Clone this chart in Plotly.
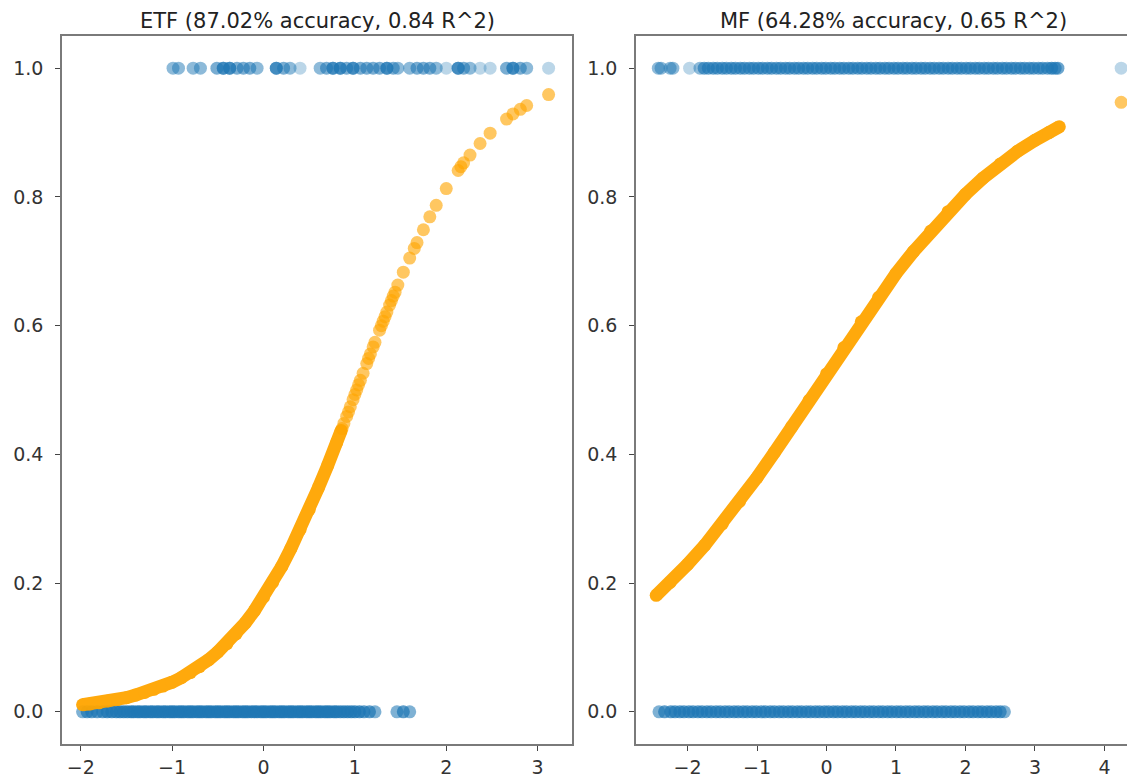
import plotly.graph_objects as go

# ---------------- data ----------------
titles = ["ETF (87.02% accuracy, 0.84 R^2)", "MF (64.28% accuracy, 0.65 R^2)"]

# ETF: x of observations with label 0 / label 1
etf_x_label0 = [-1.98, -1.93, -1.88, -1.82, -1.76, -1.71, -1.66, -1.61, -1.57, -1.53,
                -1.49, -1.45, -1.42, -1.38, -1.35, -1.31, -1.28, -1.24, -1.21, -1.17,
                -1.14, -1.10, -1.07, -1.03, -1.00, -0.97, -0.93, -0.90, -0.87, -0.83,
                -0.80, -0.77, -0.73, -0.70, -0.67, -0.63, -0.60, -0.57, -0.53, -0.50,
                -0.47, -0.43, -0.40, -0.37, -0.33, -0.30, -0.27, -0.23, -0.20, -0.17,
                -0.13, -0.10, -0.07, -0.03, 0.00, 0.03, 0.07, 0.10, 0.13, 0.17,
                0.20, 0.23, 0.27, 0.30, 0.33, 0.37, 0.40, 0.43, 0.47, 0.50,
                0.53, 0.57, 0.60, 0.63, 0.67, 0.70, 0.73, 0.77, 0.80, 0.84,
                0.88, 0.92, 0.96, 1.00, 1.05, 1.10, 1.16, 1.22, 1.46, 1.53, 1.60]
etf_x_label1 = [-0.99, -0.93, -0.77, -0.69, -0.51, -0.44, -0.44, -0.37, -0.37, -0.29,
                -0.22, -0.15, -0.07, 0.14, 0.14, 0.22, 0.29, 0.40, 0.62, 0.69,
                0.76, 0.76, 0.84, 0.84, 0.91, 0.98, 0.98, 1.06, 1.13, 1.20,
                1.27, 1.35, 1.35, 1.42, 1.47, 1.60, 1.68, 1.75, 1.82, 1.89,
                2.00, 2.13, 2.13, 2.19, 2.26, 2.37, 2.48, 2.66, 2.73, 2.73,
                2.81, 2.88, 3.12]
# ETF predicted probabilities (dense lower part and sparse upper part)
etf_curve_x = [-1.98, -1.90, -1.80, -1.70, -1.60, -1.50, -1.40, -1.30, -1.20, -1.10,
               -1.00, -0.90, -0.80, -0.70, -0.60, -0.50, -0.40, -0.30, -0.20, -0.10,
               0.00, 0.10, 0.20, 0.30, 0.40, 0.50, 0.60, 0.70, 0.80, 0.85]
etf_curve_p = [0.011, 0.012, 0.014, 0.017, 0.019, 0.022, 0.026, 0.030, 0.035, 0.040,
               0.046, 0.053, 0.061, 0.070, 0.081, 0.093, 0.106, 0.121, 0.138, 0.157,
               0.178, 0.201, 0.226, 0.254, 0.283, 0.314, 0.348, 0.382, 0.418, 0.437]
etf_sparse_x = [0.86, 0.88, 0.91, 0.93, 0.95, 0.98, 1.00, 1.02, 1.04, 1.06,
                1.09, 1.13, 1.15, 1.17, 1.20, 1.22, 1.27, 1.29, 1.31, 1.33,
                1.35, 1.38, 1.40, 1.42, 1.44, 1.47, 1.53, 1.60, 1.65, 1.68,
                1.75, 1.82, 1.89, 2.00, 2.13, 2.16, 2.19, 2.26, 2.37, 2.48,
                2.66, 2.73, 2.81, 2.88, 3.12]
etf_sparse_p = [0.440, 0.448, 0.459, 0.466, 0.474, 0.485, 0.493, 0.500, 0.508, 0.515,
                0.526, 0.541, 0.549, 0.556, 0.567, 0.574, 0.593, 0.600, 0.607, 0.614,
                0.621, 0.632, 0.639, 0.646, 0.652, 0.663, 0.683, 0.705, 0.720, 0.729,
                0.749, 0.769, 0.787, 0.813, 0.841, 0.847, 0.853, 0.865, 0.883, 0.899,
                0.921, 0.929, 0.936, 0.942, 0.959]

# MF: x of observations with label 0 / label 1
mf_x_label0 = [-2.41, -2.33, -2.24, -2.18, -2.11, -2.05, -1.98, -1.92, -1.85, -1.79,
               -1.72, -1.66, -1.59, -1.53, -1.46, -1.40, -1.33, -1.27, -1.20, -1.14,
               -1.07, -1.01, -0.94, -0.88, -0.81, -0.75, -0.68, -0.62, -0.55, -0.49,
               -0.42, -0.36, -0.29, -0.23, -0.16, -0.10, -0.03, 0.03, 0.10, 0.16,
               0.23, 0.29, 0.36, 0.42, 0.49, 0.55, 0.62, 0.68, 0.75, 0.81,
               0.88, 0.94, 1.01, 1.07, 1.14, 1.20, 1.27, 1.33, 1.40, 1.46,
               1.53, 1.59, 1.66, 1.72, 1.79, 1.85, 1.92, 1.98, 2.05, 2.11,
               2.18, 2.24, 2.31, 2.37, 2.44, 2.50, 2.56]
mf_x_label1 = [-2.42, -2.38, -2.25, -2.21, -1.97, -1.82, -1.76, -1.70, -1.63, -1.57,
               -1.50, -1.44, -1.37, -1.31, -1.24, -1.18, -1.11, -1.05, -0.98, -0.92,
               -0.85, -0.79, -0.72, -0.66, -0.59, -0.53, -0.46, -0.40, -0.33, -0.27,
               -0.20, -0.14, -0.07, -0.01, 0.06, 0.12, 0.19, 0.25, 0.32, 0.38,
               0.45, 0.51, 0.58, 0.64, 0.71, 0.77, 0.84, 0.90, 0.97, 1.03,
               1.10, 1.16, 1.23, 1.29, 1.36, 1.42, 1.49, 1.55, 1.62, 1.68,
               1.75, 1.81, 1.88, 1.94, 2.01, 2.07, 2.14, 2.20, 2.27, 2.33,
               2.40, 2.46, 2.53, 2.59, 2.66, 2.72, 2.79, 2.85, 2.92, 2.98,
               3.05, 3.11, 3.18, 3.24, 3.29, 3.33, 4.24]
mf_curve_x = [-2.45, -2.25, -2.00, -1.75, -1.50, -1.25, -1.00, -0.75, -0.50, -0.25,
              0.00, 0.25, 0.50, 0.75, 1.00, 1.25, 1.50, 1.75, 2.00, 2.25,
              2.50, 2.75, 3.00, 3.20, 3.35]
mf_curve_p = [0.181, 0.201, 0.229, 0.259, 0.292, 0.327, 0.364, 0.403, 0.443, 0.484,
              0.525, 0.566, 0.606, 0.644, 0.681, 0.715, 0.747, 0.777, 0.804, 0.829,
              0.851, 0.871, 0.888, 0.900, 0.909]
mf_sparse_x = [4.24]
mf_sparse_p = [0.947]

x_ticks_etf = [-2, -1, 0, 1, 2, 3]
x_ticks_mf = [-2, -1, 0, 1, 2, 3, 4]
y_ticks = [0.0, 0.2, 0.4, 0.6, 0.8, 1.0]

# ---------------- styling ----------------
BLUE = "#1f77b4"
ORANGE = "#FFA500"
FONT = "DejaVu Sans"
OFF = 8                      # page body margin of the html page
W, H = 1135 - OFF, 782 - OFF  # figure size so it fills the window exactly
MS = 13


def density_opacity(xs, base, cap, radius=0.1):
    # emulate overlapping semi-transparent points: isolated points look pale
    out = []
    for v in xs:
        n = sum(1 for u in xs if abs(u - v) <= radius)
        out.append(min(cap, 1 - (1 - base) ** n))
    return out


fig = go.Figure()


def add_panel(xa, ya, x0, x1, cx, cp, sx, sp, cap0, cap1):
    fig.add_trace(go.Scatter(x=x0, y=[0] * len(x0), mode="markers", xaxis=xa, yaxis=ya,
                             marker=dict(size=MS, color=BLUE, opacity=density_opacity(x0, 0.35, cap0),
                                         line=dict(width=0)),
                             showlegend=False, hoverinfo="skip"))
    fig.add_trace(go.Scatter(x=x1, y=[1] * len(x1), mode="markers", xaxis=xa, yaxis=ya,
                             marker=dict(size=MS, color=BLUE, opacity=density_opacity(x1, 0.3, cap1),
                                         line=dict(width=0)),
                             showlegend=False, hoverinfo="skip"))
    fig.add_trace(go.Scatter(x=cx, y=cp, mode="lines+markers", xaxis=xa, yaxis=ya,
                             line=dict(color=ORANGE, width=MS),
                             marker=dict(size=MS, color=ORANGE, line=dict(width=0)),
                             opacity=0.95, showlegend=False, hoverinfo="skip"))
    fig.add_trace(go.Scatter(x=sx, y=sp, mode="markers", xaxis=xa, yaxis=ya,
                             marker=dict(size=MS, color=ORANGE, opacity=0.62, line=dict(width=0)),
                             showlegend=False, hoverinfo="skip"))


add_panel("x", "y", etf_x_label0, etf_x_label1, etf_curve_x, etf_curve_p,
          etf_sparse_x, etf_sparse_p, 0.8, 0.6)
add_panel("x2", "y2", mf_x_label0, mf_x_label1, mf_curve_x, mf_curve_p,
          mf_sparse_x, mf_sparse_p, 0.88, 0.88)


def px_x(p):
    return (p - OFF) / W


def px_y(p):
    return 1 - (p - OFF) / H


y_dom = [px_y(744), px_y(36)]
axis_common = dict(showgrid=False, zeroline=False, showline=True, linecolor="#7a7a7a", linewidth=1.5,
                   ticks="outside", ticklen=5, tickwidth=1.2, tickcolor="#444",
                   tickfont=dict(family=FONT, size=19, color="#333"))


def fmt_x(v):
    return ("\u2212" + str(abs(v))) if v < 0 else str(v)


fig.update_layout(
    width=W, height=H,
    margin=dict(l=0, r=0, t=0, b=0),
    paper_bgcolor="white", plot_bgcolor="white",
    xaxis=dict(domain=[px_x(62), px_x(572)], range=[-2.205, 3.376], anchor="y", mirror=True,
               tickvals=x_ticks_etf, ticktext=[fmt_x(v) for v in x_ticks_etf], **axis_common),
    yaxis=dict(domain=y_dom, range=[-0.05, 1.05], anchor="x", mirror=True,
               tickvals=y_ticks, ticktext=[f"{v:.1f}" for v in y_ticks], ticklabelstandoff=8,
               **axis_common),
    xaxis2=dict(domain=[px_x(636), 1.0], range=[-2.741, 4.439], anchor="y2", mirror=True,
                tickvals=x_ticks_mf, ticktext=[fmt_x(v) for v in x_ticks_mf], **axis_common),
    yaxis2=dict(domain=y_dom, range=[-0.05, 1.05], anchor="x2", mirror=False,
                tickvals=y_ticks, ticktext=[f"{v:.1f}" for v in y_ticks], ticklabelstandoff=8,
                **axis_common),
    annotations=[
        dict(text=titles[0], x=px_x(317), y=px_y(21), xref="paper", yref="paper",
             xanchor="center", yanchor="middle", showarrow=False,
             font=dict(family=FONT, size=21, color="#222")),
        dict(text=titles[1], x=px_x(893), y=px_y(21), xref="paper", yref="paper",
             xanchor="center", yanchor="middle", showarrow=False,
             font=dict(family=FONT, size=21, color="#222")),
    ],
)

fig.write_html("out.html")
